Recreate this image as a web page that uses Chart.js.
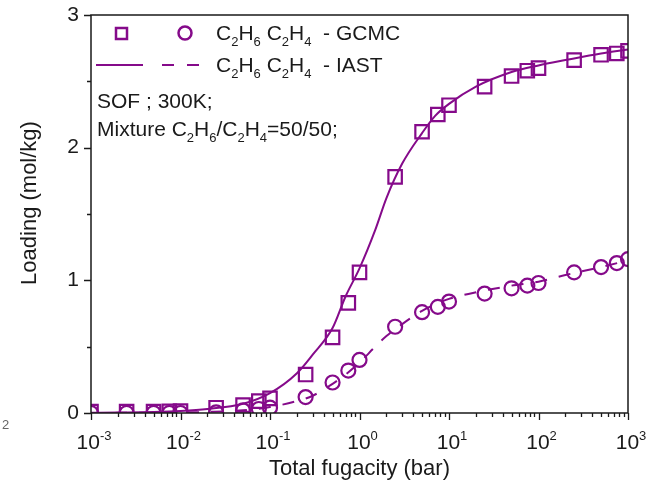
<!DOCTYPE html>
<html>
<head>
<meta charset="utf-8">
<script src="https://cdn.jsdelivr.net/npm/chart.js@4.4.1/dist/chart.umd.min.js"></script>
<style>
  html, body { margin: 0; padding: 0; background: #ffffff; }
  #wrap { width: 652px; height: 491px; position: relative; }
</style>
</head>
<body>
<div id="wrap"><canvas id="c" width="652" height="491"></canvas></div>
<script>
// ---- data ----
const fugacityGCMC = [0.001, 0.0025, 0.005, 0.0075, 0.01, 0.025, 0.05, 0.075, 0.1, 0.25, 0.5, 0.75, 1, 2.5, 5, 7.5, 10, 25, 50, 75, 100, 250, 500, 750, 1000];
const ethaneGCMC   = [0.01, 0.01, 0.01, 0.012, 0.015, 0.04, 0.06, 0.09, 0.11, 0.29, 0.57, 0.83, 1.06, 1.78, 2.12, 2.25, 2.32, 2.46, 2.54, 2.58, 2.60, 2.66, 2.70, 2.71, 2.73];
const etheneGCMC   = [0.0, 0.0, 0.0, 0.0, 0.0, 0.005, 0.02, 0.03, 0.04, 0.12, 0.23, 0.32, 0.40, 0.65, 0.76, 0.80, 0.84, 0.90, 0.94, 0.96, 0.98, 1.06, 1.10, 1.13, 1.16];

const fugacityIAST = [0.001, 0.002, 0.005, 0.01, 0.02, 0.05, 0.1, 0.2, 0.3, 0.5, 0.7, 1, 1.5, 2, 3, 5, 7, 10, 20, 50, 100, 200, 500, 1000];
const ethaneIAST   = [0.002, 0.004, 0.008, 0.015, 0.03, 0.07, 0.15, 0.30, 0.44, 0.64, 0.88, 1.09, 1.38, 1.62, 1.88, 2.11, 2.24, 2.33, 2.46, 2.57, 2.62, 2.66, 2.71, 2.74];
const etheneIAST   = [0.0, 0.001, 0.002, 0.004, 0.008, 0.02, 0.045, 0.09, 0.13, 0.22, 0.29, 0.38, 0.50, 0.58, 0.67, 0.77, 0.82, 0.86, 0.91, 0.96, 0.99, 1.04, 1.10, 1.15];

const xDecades = [-3, -2, -1, 0, 1, 2, 3];
const yTicks = [0, 1, 2, 3];
const yMinorTicks = [0.5, 1.5, 2.5];

const PURPLE = '#850a8a';
const INK = '#1a1a1a';
const FONT = '"Liberation Sans", Arial, Helvetica, sans-serif';

function pts(xs, ys) { return xs.map((x, i) => ({ x: x, y: ys[i] })); }

// draw text made of [text, mode] parts; mode: 'n' normal, 'b' subscript, 'p' superscript
function rich(ctx, parts, x, y, size, align) {
  const small = Math.round(size * 0.62);
  let w = 0;
  parts.forEach(p => {
    ctx.font = (p[1] === 'n' ? size : small) + 'px ' + FONT;
    w += ctx.measureText(p[0]).width;
  });
  let cx = align === 'center' ? x - w / 2 : x;
  parts.forEach(p => {
    const s = p[1] === 'n' ? size : small;
    ctx.font = s + 'px ' + FONT;
    let dy = 0;
    if (p[1] === 'b') dy = size * 0.30;
    if (p[1] === 'p') dy = -size * 0.42;
    ctx.textAlign = 'left';
    ctx.fillText(p[0], cx, y + dy);
    cx += ctx.measureText(p[0]).width;
  });
}

const decor = {
  id: 'decor',
  afterDraw(chart) {
    const ctx = chart.ctx;
    const a = chart.chartArea;
    const xs = chart.scales.x, ys = chart.scales.y;
    ctx.save();
    ctx.strokeStyle = INK;
    ctx.fillStyle = INK;
    ctx.lineWidth = 1.5;
    // frame
    ctx.beginPath();
    ctx.rect(a.left, a.top, a.right - a.left, a.bottom - a.top);
    ctx.stroke();
    // x ticks (log, outward)
    ctx.lineWidth = 1.3;
    ctx.beginPath();
    for (let d = -3; d <= 2; d++) {
      for (let m = 1; m <= 9; m++) {
        const v = m * Math.pow(10, d);
        const px = Math.round(xs.getPixelForValue(v)) + 0.5;
        const len = m === 1 ? 7 : 4;
        ctx.moveTo(px, a.bottom);
        ctx.lineTo(px, a.bottom + len);
      }
    }
    const pEnd = Math.round(xs.getPixelForValue(1000)) + 0.5;
    ctx.moveTo(pEnd, a.bottom); ctx.lineTo(pEnd, a.bottom + 7);
    // y ticks (outward)
    yTicks.forEach(v => {
      const py = Math.round(ys.getPixelForValue(v)) + 0.5;
      ctx.moveTo(a.left, py); ctx.lineTo(a.left - 7, py);
    });
    yMinorTicks.forEach(v => {
      const py = Math.round(ys.getPixelForValue(v)) + 0.5;
      ctx.moveTo(a.left, py); ctx.lineTo(a.left - 4, py);
    });
    ctx.stroke();

    // x tick labels 10^n
    ctx.fillStyle = INK;
    ctx.textBaseline = 'alphabetic';
    xDecades.forEach(d => {
      const px = xs.getPixelForValue(Math.pow(10, d));
      rich(ctx, [['10', 'n'], [String(d), 'p']], px + 3, a.bottom + 36, 21, 'center');
    });

    // y axis title
    ctx.save();
    ctx.translate(30, 203);
    ctx.rotate(-Math.PI / 2);
    ctx.font = '22px ' + FONT;
    ctx.textAlign = 'center';
    ctx.textBaseline = 'middle';
    ctx.fillText('Loading (mol/kg)', 0, 0);
    ctx.restore();

    // legend
    ctx.strokeStyle = PURPLE;
    ctx.lineWidth = 2.5;
    ctx.strokeRect(116, 28, 11, 11);
    ctx.beginPath(); ctx.arc(185, 33, 6.5, 0, Math.PI * 2); ctx.stroke();
    ctx.lineWidth = 2;
    ctx.beginPath(); ctx.moveTo(96, 65); ctx.lineTo(143, 65); ctx.stroke();
    ctx.beginPath(); ctx.moveTo(162, 65); ctx.lineTo(174, 65); ctx.moveTo(187, 65); ctx.lineTo(199, 65); ctx.stroke();

    ctx.fillStyle = INK;
    const spec = [['C', 'n'], ['2', 'b'], ['H', 'n'], ['6', 'b'], [' C', 'n'], ['2', 'b'], ['H', 'n'], ['4', 'b']];
    rich(ctx, spec.concat([['  - GCMC', 'n']]), 216, 40, 21);
    rich(ctx, spec.concat([['  - IAST', 'n']]), 216, 72, 21);
    rich(ctx, [['SOF ; 300K;', 'n']], 97, 108, 21);
    rich(ctx, [['Mixture C', 'n'], ['2', 'b'], ['H', 'n'], ['6', 'b'], ['/C', 'n'], ['2', 'b'], ['H', 'n'], ['4', 'b'], ['=50/50;', 'n']], 97, 136, 21);

    // stray glyph at left edge of the reference
    ctx.fillStyle = '#666';
    ctx.font = '13px ' + FONT;
    ctx.textAlign = 'left';
    ctx.fillText('2', 2, 429);
    ctx.restore();
  }
};

new Chart(document.getElementById('c'), {
  type: 'scatter',
  data: {
    datasets: [
      { label: 'C2H6 GCMC', data: pts(fugacityGCMC, ethaneGCMC), showLine: false,
        pointStyle: 'rect', pointRadius: 9.5, borderColor: PURPLE, backgroundColor: 'rgba(0,0,0,0)', borderWidth: 2.2, order: 1 },
      { label: 'C2H4 GCMC', data: pts(fugacityGCMC, etheneGCMC), showLine: false,
        pointStyle: 'circle', pointRadius: 7, borderColor: PURPLE, backgroundColor: 'rgba(0,0,0,0)', borderWidth: 2.2, order: 2 },
      { label: 'C2H6 IAST', data: pts(fugacityIAST, ethaneIAST), showLine: true, pointRadius: 0,
        borderColor: PURPLE, borderWidth: 2, cubicInterpolationMode: 'monotone', order: 3 },
      { label: 'C2H4 IAST', data: pts(fugacityIAST, etheneIAST), showLine: true, pointRadius: 0,
        borderColor: PURPLE, borderWidth: 2, borderDash: [12, 12], cubicInterpolationMode: 'monotone', order: 4 }
    ]
  },
  options: {
    responsive: false,
    animation: false,
    events: [],
    layout: { padding: { left: 0, right: 24, top: 15, bottom: 0 } },
    plugins: { legend: { display: false }, tooltip: { enabled: false } },
    scales: {
      x: {
        type: 'logarithmic', min: 0.001, max: 1000,
        grid: { display: false }, border: { display: false },
        ticks: { display: false },
        title: { display: true, text: 'Total fugacity (bar)', color: INK,
                 font: { family: FONT, size: 22 }, padding: { top: 0, bottom: 9 } },
        afterFit(s) { s.height = 78; s.paddingLeft = 0; s.paddingRight = 0; }
      },
      y: {
        type: 'linear', min: 0, max: 3,
        grid: { display: false, drawTicks: false }, border: { display: false },
        ticks: { stepSize: 1, color: INK, padding: 12, font: { family: FONT, size: 21 },
                 callback: v => String(v) },
        afterFit(s) { s.width = 91; s.paddingTop = 0; s.paddingBottom = 0; }
      }
    }
  },
  plugins: [decor]
});
</script>
</body>
</html>
